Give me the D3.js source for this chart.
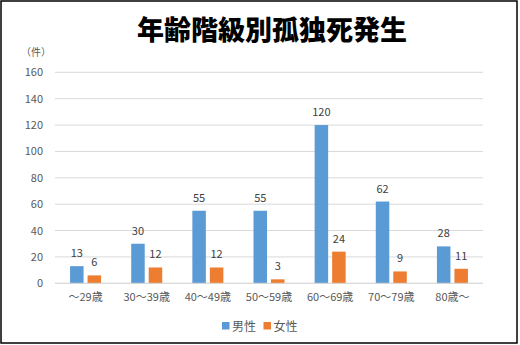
<!DOCTYPE html>
<html>
<head>
<meta charset="utf-8">
<script src="https://cdn.jsdelivr.net/npm/d3@7"></script>
<style>
  html, body { margin: 0; padding: 0; background: #fff; }
  svg { display: block; }
</style>
</head>
<body>
<svg id="chart" width="520" height="345"></svg>
<script>
// Age-group counts of solitary deaths, by sex
const categories = ["～29歳", "30～39歳", "40～49歳", "50～59歳", "60～69歳", "70～79歳", "80歳～"];
const maleValues = [13, 30, 55, 55, 120, 62, 28];
const femaleValues = [6, 12, 12, 3, 24, 9, 11];
const seriesNames = ["男性", "女性"];
const yTicks = [0, 20, 40, 60, 80, 100, 120, 140, 160];

const colors = ["#5B9BD5", "#ED7D31"];
const font = "'Noto Sans CJK JP', 'Noto Sans', sans-serif";

const svg = d3.select("#chart");
const W = 520, H = 345;

// outer frame
svg.append("rect").attr("x", 1).attr("y", 1).attr("width", 516).attr("height", 342)
  .attr("fill", "#fff").attr("stroke", "#000").attr("stroke-width", 1.5);

const plot = { left: 55, right: 483, top: 72.3, bottom: 283.3 };

const x = d3.scaleBand().domain(categories).range([plot.left, plot.right]);
const y = d3.scaleLinear().domain([0, 160]).range([plot.bottom, plot.top]);

// gridlines
svg.append("g").selectAll("line").data(yTicks).join("line")
  .attr("x1", plot.left).attr("x2", plot.right)
  .attr("y1", d => y(d)).attr("y2", d => y(d))
  .attr("stroke", "#D9D9D9").attr("stroke-width", 1);

// y axis labels
const yAxis = d3.axisLeft(y).tickValues(yTicks).tickSize(0).tickPadding(12);
const yg = svg.append("g").attr("transform", `translate(${plot.left},0)`).call(yAxis);
yg.select(".domain").remove();
yg.selectAll("text").attr("font-family", font).attr("font-size", 11).attr("fill", "#595959");

// x axis labels
const xAxis = d3.axisBottom(x).tickSize(0).tickPadding(10);
const xg = svg.append("g").attr("transform", `translate(0,${plot.bottom})`).call(xAxis);
xg.select(".domain").remove();
xg.selectAll("text").attr("font-family", font).attr("font-size", 11).attr("fill", "#595959");

// unit label
svg.append("text").attr("x", 36).attr("y", 56).attr("text-anchor", "middle")
  .attr("font-family", font).attr("font-size", 10).attr("fill", "#595959").text("（件）");

// bars
const barW = 13.5, gap = 4;
const series = [maleValues, femaleValues];
series.forEach((vals, si) => {
  const offset = si === 0 ? -gap / 2 - barW : gap / 2;
  const g = svg.append("g");
  g.selectAll("rect").data(vals).join("rect")
    .attr("x", (d, i) => x(categories[i]) + x.bandwidth() / 2 + offset)
    .attr("y", d => y(d))
    .attr("width", barW)
    .attr("height", d => y(0) - y(d))
    .attr("fill", colors[si]);
  g.selectAll("text").data(vals).join("text")
    .attr("x", (d, i) => x(categories[i]) + x.bandwidth() / 2 + offset + barW / 2)
    .attr("y", d => y(d) - 9)
    .attr("text-anchor", "middle")
    .attr("font-family", font).attr("font-size", 11).attr("fill", "#404040")
    .text(d => d);
});

// baseline
svg.append("line").attr("x1", plot.left).attr("x2", plot.right)
  .attr("y1", y(0)).attr("y2", y(0)).attr("stroke", "#D9D9D9").attr("stroke-width", 1);

// title
svg.append("text").attr("x", 272).attr("y", 40).attr("text-anchor", "middle")
  .attr("font-family", font).attr("font-weight", 900).attr("font-size", 27)
  .attr("fill", "#000").text("年齢階級別孤独死発生");

// legend
const legendItems = [{ x: 222, name: seriesNames[0], c: colors[0] }, { x: 263.5, name: seriesNames[1], c: colors[1] }];
const lg = svg.append("g");
legendItems.forEach(it => {
  lg.append("rect").attr("x", it.x).attr("y", 322).attr("width", 7.5).attr("height", 7.5).attr("fill", it.c);
  lg.append("text").attr("x", it.x + 10).attr("y", 330.5)
    .attr("font-family", font).attr("font-size", 12).attr("fill", "#595959").text(it.name);
});
</script>
</body>
</html>
